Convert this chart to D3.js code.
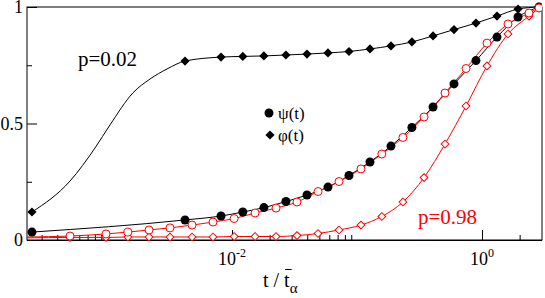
<!DOCTYPE html>
<html>
<head>
<meta charset="utf-8">
<script src="https://cdn.jsdelivr.net/npm/d3@7"></script>
<style>
body{margin:0;background:#fff}
svg{display:block}
</style>
</head>
<body>
<script>
// p=0.02 (black): markers
var tBlack = [2.51e-4, 4.21e-3, 8.17e-3, 1.22e-2, 1.80e-2, 2.70e-2, 3.98e-2, 5.86e-2, 8.63e-2,
  0.127, 0.187, 0.275, 0.406, 0.597, 0.895, 1.318, 1.941, 2.858]
var phiBlack = [0.120, 0.768, 0.785, 0.788, 0.790, 0.794, 0.798, 0.803, 0.809,
  0.820, 0.833, 0.850, 0.876, 0.903, 0.931, 0.961, 0.991, 1.0]
var psiBlack = [0.034, 0.086, 0.103, 0.120, 0.139, 0.165, 0.193, 0.227, 0.277,
  0.335, 0.403, 0.483, 0.571, 0.670, 0.770, 0.871, 0.957, 1.0]
// extra points of the phi curve (no symbols)
var tRise = [5.06e-4, 8.02e-4, 1.057e-3, 1.61e-3, 2.21e-3, 3.02e-3]
var phiRise = [0.253, 0.395, 0.494, 0.631, 0.691, 0.734]

// p=0.98 (red)
var tRed = [5.06e-4, 9.82e-4, 1.47e-3, 2.17e-3, 3.19e-3, 4.79e-3, 7.05e-3, 1.04e-2, 1.53e-2,
  2.25e-2, 3.31e-2, 4.88e-2, 7.18e-2, 0.1076, 0.158, 0.233, 0.344, 0.506, 0.745, 1.096,
  1.614, 2.377, 2.858]
var psiRed = [0.017, 0.026, 0.034, 0.043, 0.052, 0.064, 0.077, 0.092, 0.116, 0.137, 0.163,
  0.208, 0.251, 0.305, 0.369, 0.440, 0.528, 0.631, 0.736, 0.845, 0.927, 0.974, 0.996]
var phiRed = [0.011, 0.011, 0.013, 0.013, 0.013, 0.013, 0.013, 0.015, 0.015, 0.015, 0.019,
  0.028, 0.043, 0.064, 0.101, 0.163, 0.268, 0.412, 0.575, 0.747, 0.884, 0.961, 0.996]
// red curves start at the left border
var redStart = {t: 2.29e-4, psi: 0.013, phi: 0.009}

var xMajor = [1e-2, 1]
var xMinor = [3e-4, 4e-4, 5e-4, 6e-4, 7e-4, 8e-4, 9e-4,
  2e-2, 3e-2, 4e-2, 5e-2, 6e-2, 7e-2, 8e-2, 9e-2, 2]
var xExp = ["-2", "0"]
var yMajor = [0, 0.5, 1]
var yMinor = [0.25, 0.75]

var width = 545, height = 298
var mLeft = 27, mRight = 542, mTop = 7, mBottom = 240
var serif = "'Liberation Serif'"

var svg = d3.select("body").append("svg")
  .attr("width", width).attr("height", height)

var x = d3.scaleLog().domain([Math.pow(10, -3.64), Math.pow(10, 0.48)]).range([mLeft, mRight])
var y = d3.scaleLinear().domain([0, 1]).range([mBottom, mTop])

svg.append("clipPath").attr("id", "clip")
  .append("rect").attr("x", mLeft).attr("y", mTop - 6).attr("width", mRight - mLeft).attr("height", mBottom - mTop + 12)

// axes (inward ticks)
var gx = svg.append("g").attr("transform", "translate(0," + mBottom + ")")
gx.call(d3.axisBottom(x).tickValues(xMajor).tickSize(-10).tickFormat(""))
gx.append("g").call(d3.axisBottom(x).tickValues(xMinor).tickSize(-5).tickFormat(""))
gx.selectAll(".domain").remove()
gx.selectAll("line").attr("stroke", "#000")

gx.selectAll(".xlab").data(xMajor).enter().append("text")
  .attr("class", "xlab")
  .attr("x", d => x(d)).attr("y", 25)
  .attr("text-anchor", "middle").attr("fill", "#000")
  .style("font-family", serif).style("font-size", "18px")
  .each(function(d, i) {
    var t = d3.select(this)
    t.append("tspan").text("10")
    t.append("tspan").attr("dy", -8).style("font-size", "12px").text(xExp[i])
  })

var gy = svg.append("g").attr("transform", "translate(" + mLeft + ",0)")
gy.call(d3.axisLeft(y).tickValues(yMajor).tickSize(-10).tickFormat(""))
gy.append("g").call(d3.axisLeft(y).tickValues(yMinor).tickSize(-5).tickFormat(""))
gy.selectAll(".domain").remove()
gy.selectAll("line").attr("stroke", "#000")
gy.selectAll(".ylab").data(yMajor).enter().append("text")
  .attr("x", -4).attr("y", d => y(d)).attr("dy", "0.35em")
  .attr("text-anchor", "end").attr("fill", "#000")
  .style("font-family", serif).style("font-size", "18px")
  .text(d => d === 0.5 ? "0.5" : d)

// frame
svg.append("rect").attr("x", mLeft).attr("y", mTop).attr("width", mRight - mLeft).attr("height", mBottom - mTop)
  .attr("fill", "none").attr("stroke", "#000").attr("stroke-width", 1)
svg.append("line").attr("x1", mLeft).attr("x2", mRight).attr("y1", mBottom + 0.5).attr("y2", mBottom + 0.5)
  .attr("stroke", "#000").attr("stroke-width", 1.2)

var plot = svg.append("g").attr("clip-path", "url(#clip)")
var line = d3.line().x(d => x(d[0])).y(d => y(d[1])).curve(d3.curveMonotoneX)

var phiBlackLine = tBlack.map((t, i) => [t, phiBlack[i]])
  .concat(tRise.map((t, i) => [t, phiRise[i]]))
  .sort((a, b) => a[0] - b[0])
var psiBlackPts = tBlack.map((t, i) => [t, psiBlack[i]])
var phiBlackPts = tBlack.map((t, i) => [t, phiBlack[i]])
var psiRedPts = tRed.map((t, i) => [t, psiRed[i]])
var phiRedPts = tRed.map((t, i) => [t, phiRed[i]])

plot.append("path").attr("d", line(phiBlackLine)).attr("fill", "none").attr("stroke", "#000")
plot.append("path").attr("d", line(psiBlackPts)).attr("fill", "none").attr("stroke", "#000")
plot.append("path").attr("d", line([[redStart.t, redStart.phi]].concat(phiRedPts)))
  .attr("fill", "none").attr("stroke", "#ff0000")
plot.append("path").attr("d", line([[redStart.t, redStart.psi]].concat(psiRedPts)))
  .attr("fill", "none").attr("stroke", "#ff0000")

var diamondBig = d3.symbol().type(d3.symbolSquare).size(42)
var diamondSmall = d3.symbol().type(d3.symbolSquare).size(30)

plot.selectAll(".psib").data(psiBlackPts).enter().append("circle")
  .attr("cx", d => x(d[0])).attr("cy", d => y(d[1])).attr("r", 4.5).attr("fill", "#000")
plot.selectAll(".phib").data(phiBlackPts).enter().append("path")
  .attr("d", diamondBig)
  .attr("transform", d => "translate(" + x(d[0]) + "," + y(d[1]) + ") rotate(45)")
  .attr("fill", "#000")
plot.selectAll(".phir").data(phiRedPts).enter().append("path")
  .attr("d", diamondSmall)
  .attr("transform", d => "translate(" + x(d[0]) + "," + y(d[1]) + ") rotate(45)")
  .attr("fill", "#fff").attr("stroke", "#ff0000").attr("stroke-width", 1)
plot.selectAll(".psir").data(psiRedPts).enter().append("circle")
  .attr("cx", d => x(d[0])).attr("cy", d => y(d[1])).attr("r", 4).attr("fill", "#fff")
  .attr("stroke", "#ff0000").attr("stroke-width", 1)

// labels
svg.append("text").attr("x", 78).attr("y", 66).style("font-family", serif).style("font-size", "21px")
  .attr("fill", "#000").text("p=0.02")
svg.append("text").attr("x", 418).attr("y", 224).style("font-family", serif).style("font-size", "21px")
  .attr("fill", "#ff0000").text("p=0.98")

// legend
var leg = svg.append("g")
leg.append("circle").attr("cx", 269).attr("cy", 113).attr("r", 4.5).attr("fill", "#000")
leg.append("text").attr("x", 278).attr("y", 119).style("font-family", serif).style("font-size", "17px").text("\u03c8(t)")
leg.append("path").attr("d", diamondBig).attr("transform", "translate(270,135) rotate(45)").attr("fill", "#000")
leg.append("text").attr("x", 278).attr("y", 141).style("font-family", serif).style("font-size", "17px").text("\u03c6(t)")

// x axis title: t / t-bar_alpha
var xt = svg.append("text").attr("x", 263).attr("y", 287).style("font-family", serif).style("font-size", "20px").attr("fill", "#000")
xt.append("tspan").text("t / t")
xt.append("tspan").attr("dy", 6).style("font-size", "15px").text("\u03b1")
var ext = xt.node().getExtentOfChar(4)
svg.append("line")
  .attr("x1", ext.x + 1).attr("x2", ext.x + ext.width + 2)
  .attr("y1", 269.5).attr("y2", 269.5)
  .attr("stroke", "#000").attr("stroke-width", 1)
</script>
</body>
</html>
